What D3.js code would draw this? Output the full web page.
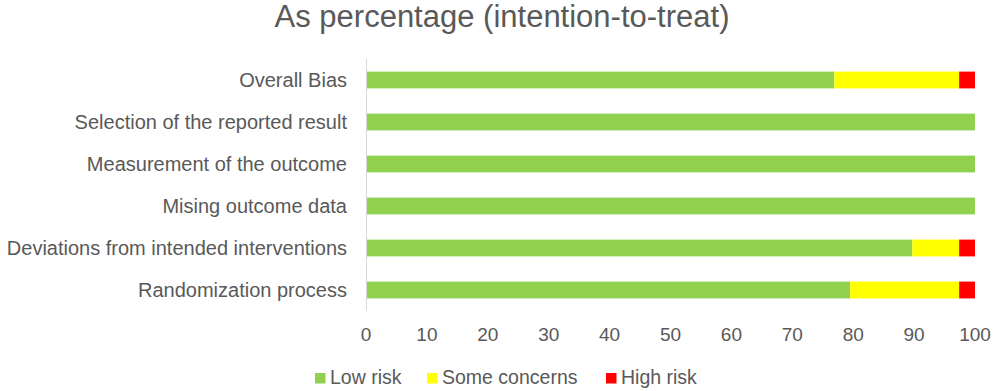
<!DOCTYPE html>
<html>
<head>
<meta charset="utf-8">
<script src="https://cdn.jsdelivr.net/npm/d3@7"></script>
<style>
  body { margin: 0; background: #fff; }
  text { font-family: "Liberation Sans", Arial, sans-serif; fill: #595959; }
</style>
</head>
<body>
<div id="chart"></div>
<script>
// Data
const domains = [
  "Overall Bias",
  "Selection of the reported result",
  "Measurement of the outcome",
  "Mising outcome data",
  "Deviations from intended interventions",
  "Randomization process"
];
const lowRisk = [76.9, 100, 100, 100, 89.7, 79.5];
const someConcerns = [20.5, 0, 0, 0, 7.7, 17.9];
const highRisk = [2.6, 0, 0, 0, 2.6, 2.6];
const seriesNames = ["Low risk", "Some concerns", "High risk"];
const seriesColors = ["#92D050", "#FFFF00", "#FF0000"];
const xTicks = [0, 10, 20, 30, 40, 50, 60, 70, 80, 90, 100];

const W = 996, H = 391;
const MARGIN = { top: 59, right: 21, bottom: 80, left: 366 };

const svg = d3.select("#chart").append("svg")
  .attr("width", W)
  .attr("height", H);

// Title
svg.append("text")
  .attr("x", 502)
  .attr("y", 27)
  .attr("text-anchor", "middle")
  .attr("font-size", "31px")
  .text("As percentage (intention-to-treat)");

const x = d3.scaleLinear()
  .domain([0, 100])
  .range([MARGIN.left, W - MARGIN.right]);

const y = d3.scaleBand()
  .domain(domains)
  .range([MARGIN.top, H - MARGIN.bottom])
  .paddingInner(0.6)
  .paddingOuter(0.3);

// Stack rows
const rows = domains.map((d, i) => ({
  domain: d,
  "Low risk": lowRisk[i],
  "Some concerns": someConcerns[i],
  "High risk": highRisk[i]
}));
const stacked = d3.stack().keys(seriesNames)(rows);

const color = d3.scaleOrdinal().domain(seriesNames).range(seriesColors);

svg.append("g")
  .selectAll("g")
  .data(stacked)
  .join("g")
  .attr("fill", d => color(d.key))
  .selectAll("rect")
  .data(d => d)
  .join("rect")
  .attr("x", d => x(d[0]))
  .attr("y", d => y(d.data.domain))
  .attr("width", d => x(d[1]) - x(d[0]))
  .attr("height", y.bandwidth());

// Category axis line
svg.append("line")
  .attr("x1", x(0) + 0.5)
  .attr("x2", x(0) + 0.5)
  .attr("y1", MARGIN.top)
  .attr("y2", H - MARGIN.bottom)
  .attr("stroke", "#d9d9d9")
  .attr("stroke-width", 1);

// Category labels
svg.append("g")
  .selectAll("text")
  .data(domains)
  .join("text")
  .attr("x", MARGIN.left - 19)
  .attr("y", d => y(d) + y.bandwidth() / 2)
  .attr("dy", "0.36em")
  .attr("text-anchor", "end")
  .attr("font-size", "20px")
  .text(d => d);

// Value tick labels
svg.append("g")
  .selectAll("text")
  .data(xTicks)
  .join("text")
  .attr("x", d => x(d))
  .attr("y", 341)
  .attr("text-anchor", "middle")
  .attr("font-size", "19px")
  .text(d => d);

// Legend
const legendX = [315, 427, 606];
const legend = svg.append("g")
  .selectAll("g")
  .data(seriesNames)
  .join("g")
  .attr("transform", (d, i) => `translate(${legendX[i]}, 384)`);

legend.append("rect")
  .attr("x", 0)
  .attr("y", -11)
  .attr("width", 10.5)
  .attr("height", 10.5)
  .attr("fill", d => color(d));

legend.append("text")
  .attr("x", 15)
  .attr("y", 0)
  .attr("font-size", "19.5px")
  .text(d => d);
</script>
</body>
</html>
